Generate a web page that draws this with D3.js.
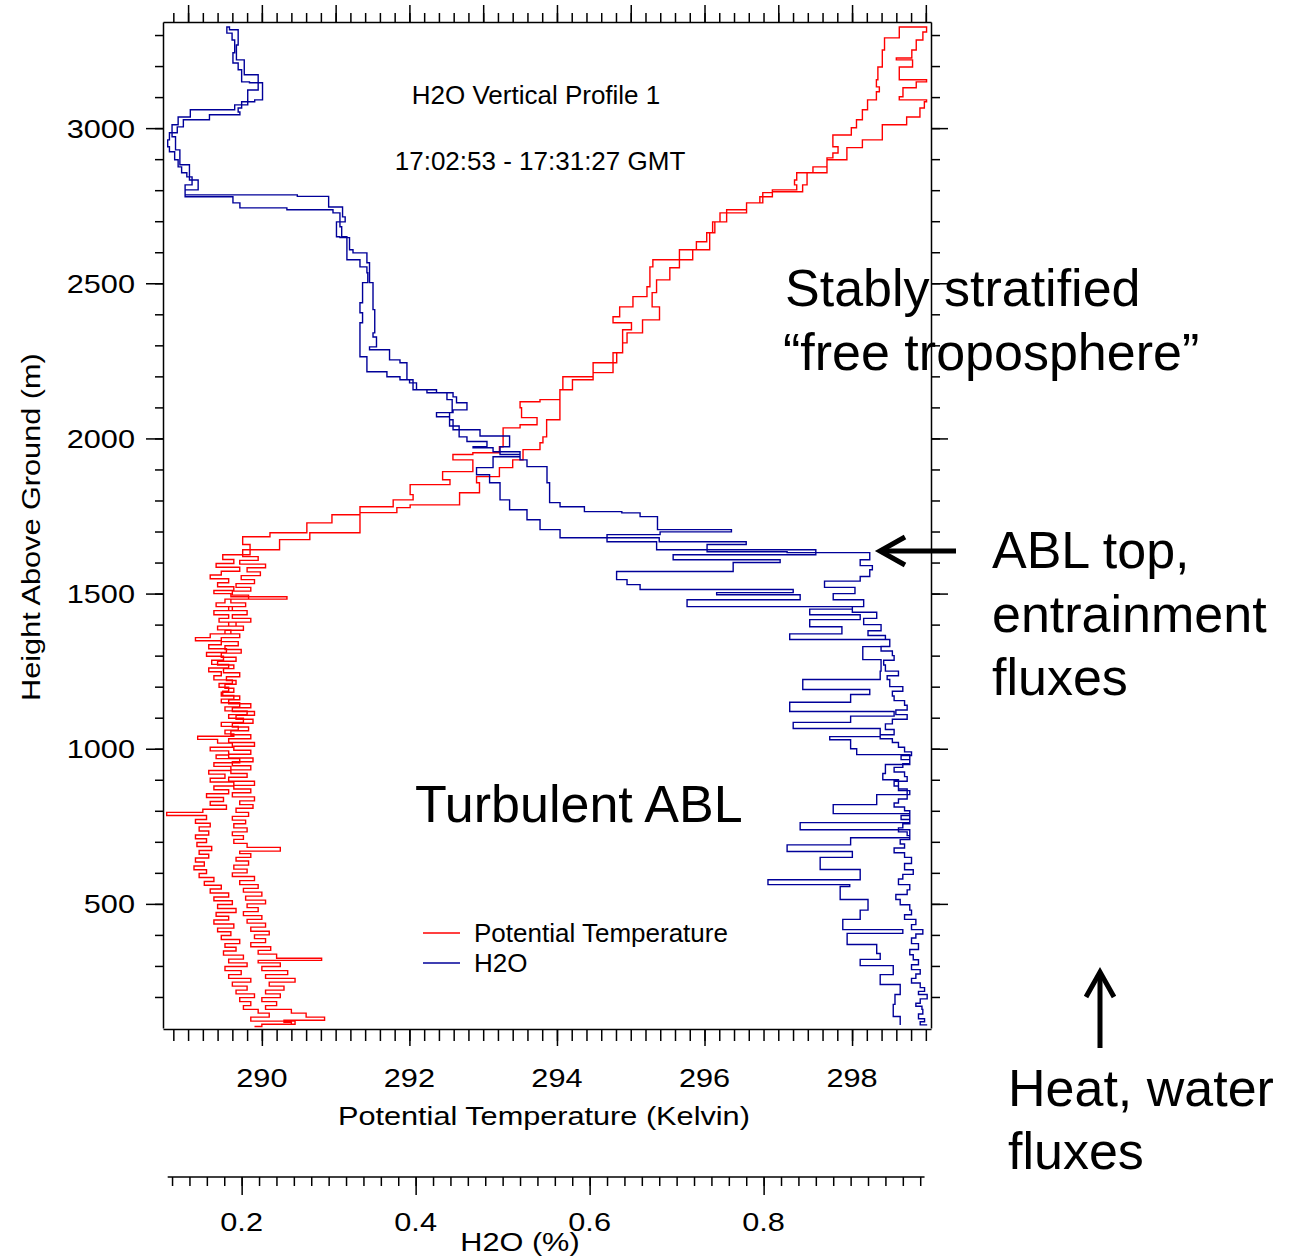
<!DOCTYPE html>
<html><head><meta charset="utf-8">
<script src="https://cdn.jsdelivr.net/npm/d3@7"></script>
<style>
body{margin:0;background:#fff}
svg{display:block}
text{font-family:"Liberation Sans",Arial,Helvetica,sans-serif}
</style>
</head><body>
<svg id="chart" width="1292" height="1257"></svg>
<script>
// ---------------- data (height m, value) ----------------
// Potential temperature (K), two legs of the profile, listed top -> bottom
const thetaLegLeft = [
[3326,298.64],[3291,298.44],[3252,298.41],[3197,298.35],[3156,298.33],[3133,298.37],[3117,298.33],[3091,298.21],[3059,298.14],[3027,298.06],[3001,297.99],[2978,297.74],[2953,297.74],[2940,297.81],[2920,297.74],[2904,297.66],[2875,297.47],[2856,297.25],[2833,297.22],[2817,297.25],[2801,296.92],[2779,296.75],[2759,296.57],[2727,296.21],[2698,296.11],[2663,296.03],[2634,295.89],[2608,295.66],[2576,295.30],[2553,295.26],[2489,295.22],[2457,295.03],[2424,294.85],[2392,294.76],[2373,295.01],[2350,294.89],[2295,294.89],[2276,294.81],[2244,294.49],[2189,294.21],[2157,294.04],[2125,293.77],[2118,293.50],[2099,293.52],[2067,293.73],[2044,293.50],[2034,293.27],[2005,293.27],[1973,293.22],[1954,292.86],[1948,292.59],[1931,292.86],[1915,292.86],[1893,292.45],[1867,292.55],[1851,292.01],[1819,292.05],[1802,291.78],[1780,291.33],[1754,290.95],[1728,290.61],[1696,290.11],[1683,289.74],[1658,289.84],[1625,289.47],
[1610,289.62],[1597,289.38],[1585,289.70],[1572,289.45],[1560,289.30],[1548,289.55],[1535,289.40],[1522,289.62],[1510,289.35],[1500,289.58],[1490,290.34],[1482,289.50],[1470,289.38],[1458,289.60],[1445,289.35],[1432,289.55],[1420,289.42],[1408,289.65],[1395,289.40],[1383,289.58],[1370,289.30],[1358,289.10],[1348,289.45],[1335,289.28],[1322,289.52],[1310,289.25],[1298,289.48],[1285,289.32],[1272,289.55],[1260,289.28],[1248,289.45],[1235,289.35],[1222,289.60],[1210,289.42],[1198,289.55],[1185,289.47],[1172,289.62],[1160,289.45],[1148,289.70],[1135,289.50],[1122,289.80],[1110,289.55],[1098,289.75],[1085,289.45],[1072,289.68],[1060,289.50],[1048,289.62],[1040,289.13],[1030,289.40],[1018,289.60],[1005,289.30],[993,289.55],[980,289.38],[968,289.70],[955,289.35],[943,289.58],[930,289.28],[918,289.50],[905,289.30],[893,289.62],[880,289.35],[868,289.55],[855,289.25],[843,289.48],[830,289.30],[818,289.52],[805,289.20],[795,288.71],[785,289.25],[772,289.10],[760,289.30],[748,289.15],[735,289.28],[722,289.10],[710,289.25],[698,289.12],[685,289.32],[672,289.15],[660,289.28],[648,289.10],[635,289.22],[622,289.08],[610,289.25],[598,289.15],[585,289.35],[572,289.22],[560,289.45],[548,289.30],[535,289.55],[522,289.35],[510,289.60],[498,289.40],[485,289.65],[472,289.38],[460,289.55],[448,289.35],[435,289.62],[422,289.40],[410,289.58],[398,289.45],[385,289.70],[372,289.50],[360,289.65],[348,289.48],[335,289.75],[322,289.55],[310,289.80],[298,289.50],[285,289.72],[272,289.55],[260,289.85],[248,289.60],[235,289.80],[222,289.65],[210,289.90],[198,289.70],[185,289.85],[172,289.75],[160,289.95],[148,290.10],[135,289.85],[122,290.45],[112,290.00],[105,289.90]
];
const thetaLegRight = [
[3326,299.02],[3310,299.01],[3284,298.96],[3252,298.87],[3226,298.81],[3220,298.60],[3210,298.82],[3197,298.82],[3181,298.64],[3156,298.64],[3149,299.01],[3130,298.87],[3101,298.69],[3091,298.64],[3085,299.01],[3065,298.98],[3036,298.92],[3011,298.74],[2962,298.41],[2937,298.14],[2898,297.93],[2856,297.66],[2817,297.39],[2795,297.33],[2792,296.92],[2759,296.79],[2737,296.57],[2698,296.30],[2663,296.14],[2608,296.07],[2576,295.84],[2550,295.66],[2511,295.53],[2470,295.35],[2424,295.29],[2382,295.39],[2340,295.16],[2308,294.95],[2276,294.89],[2244,294.76],[2212,294.76],[2199,294.49],[2157,294.08],[2115,294.04],[2060,294.04],[2005,293.86],[1986,293.81],[1964,293.77],[1931,293.54],[1906,293.40],[1877,293.22],[1857,292.91],[1825,292.95],[1786,292.68],[1777,292.01],[1761,291.83],[1696,291.33],[1674,290.65],[1641,290.24],[1619,289.74],
[1607,289.95],[1595,289.70],[1583,290.05],[1570,289.80],[1558,289.98],[1545,289.72],[1532,289.90],[1520,289.65],[1508,289.85],[1495,289.60],[1482,289.82],[1470,289.58],[1458,289.78],[1445,289.55],[1432,289.80],[1420,289.60],[1408,289.85],[1395,289.55],[1382,289.75],[1370,289.50],[1358,289.70],[1345,289.45],[1332,289.68],[1320,289.50],[1308,289.72],[1295,289.45],[1282,289.65],[1270,289.40],[1258,289.62],[1245,289.48],[1232,289.70],[1220,289.52],[1208,289.65],[1195,289.50],[1182,289.62],[1170,289.45],[1158,289.70],[1145,289.55],[1132,289.85],[1120,289.60],[1108,289.90],[1095,289.65],[1082,289.88],[1070,289.60],[1058,289.82],[1045,289.58],[1032,289.85],[1020,289.55],[1008,289.90],[995,289.62],[982,289.85],[970,289.55],[958,289.88],[945,289.60],[932,289.85],[920,289.58],[908,289.80],[895,289.55],[882,289.90],[870,289.62],[858,289.85],[845,289.60],[832,289.90],[820,289.70],[808,289.88],[795,289.65],[782,289.82],[770,289.60],[758,289.78],[745,289.62],[732,289.80],[720,289.60],[708,289.75],[695,289.62],[682,289.80],[670,290.25],[662,289.70],[650,289.85],[638,289.65],[625,289.82],[612,289.62],[600,289.80],[588,289.60],[575,289.90],[562,289.70],[550,289.95],[538,289.75],[525,290.00],[512,289.78],[500,290.05],[488,289.80],[475,289.95],[462,289.75],[450,290.00],[438,289.80],[425,290.05],[412,289.85],[400,290.10],[388,289.90],[375,290.05],[362,289.85],[350,290.12],[338,289.95],[325,290.20],[318,290.81],[310,289.95],[298,290.25],[285,290.00],[272,290.35],[260,290.05],[248,290.45],[235,290.10],[222,290.30],[210,290.05],[198,290.25],[185,290.00],[172,290.20],[160,290.05],[148,290.40],[135,290.60],[125,290.85],[118,290.30],[110,290.40]
];
// H2O (%), two legs, listed top -> bottom
const h2oLegOne = [
[3326,0.183],[3306,0.189],[3284,0.192],[3243,0.190],[3210,0.196],[3188,0.200],[3149,0.209],[3146,0.224],[3130,0.224],[3091,0.215],[3085,0.200],[3065,0.196],[3052,0.198],[3043,0.163],[3027,0.133],[3004,0.126],[2985,0.117],[2962,0.115],[2940,0.117],[2924,0.123],[2898,0.127],[2875,0.131],[2856,0.137],[2843,0.143],[2817,0.135],[2792,0.135],[2785,0.264],[2780,0.300],[2746,0.316],[2714,0.319],[2698,0.309],[2650,0.313],[2647,0.324],[2608,0.328],[2598,0.344],[2566,0.347],[2502,0.351],[2457,0.351],[2415,0.353],[2340,0.351],[2327,0.355],[2295,0.347],[2286,0.370],[2253,0.382],[2244,0.390],[2221,0.390],[2189,0.397],[2157,0.413],[2147,0.436],[2125,0.442],[2083,0.439],[2040,0.450],[2005,0.459],[1990,0.482],[1973,0.466],[1970,0.489],[1957,0.520],[1941,0.489],[1906,0.470],[1883,0.485],[1857,0.497],[1802,0.508],[1770,0.528],[1738,0.543],[1706,0.566],[1680,0.620],[1667,0.677],[1641,0.735],[1635,0.827],[1632,0.922],
[1609,0.911],[1590,0.925],[1577,0.922],[1555,0.911],[1540,0.870],[1520,0.905],[1500,0.880],[1480,0.915],[1458,0.902],[1440,0.930],[1420,0.915],[1400,0.935],[1380,0.920],[1365,0.940],[1352,0.945],[1330,0.935],[1315,0.948],[1300,0.950],[1285,0.938],[1270,0.940],[1250,0.955],[1235,0.942],[1223,0.945],[1200,0.960],[1185,0.948],[1170,0.950],[1155,0.962],[1140,0.965],[1125,0.952],[1110,0.965],[1095,0.948],[1080,0.940],[1062,0.950],[1045,0.934],[1032,0.948],[1020,0.955],[1005,0.962],[990,0.970],[978,0.958],[965,0.968],[952,0.960],[940,0.950],[925,0.962],[910,0.965],[895,0.950],[880,0.955],[865,0.968],[852,0.965],[838,0.955],[825,0.950],[812,0.962],[800,0.968],[785,0.958],[772,0.968],[758,0.960],[745,0.955],[732,0.965],[720,0.968],[707,0.957],[693,0.962],[680,0.950],[665,0.962],[650,0.970],[630,0.962],[610,0.972],[595,0.960],[580,0.955],[562,0.968],[545,0.965],[530,0.952],[514,0.957],[497,0.968],[480,0.970],[465,0.962],[450,0.975],[433,0.970],[417,0.983],[403,0.975],[390,0.970],[372,0.978],[353,0.968],[336,0.972],[320,0.978],[304,0.970],[288,0.980],[274,0.975],[260,0.970],[245,0.980],[230,0.985],[218,0.978],[208,0.988],[194,0.980],[180,0.975],[170,0.982],[160,0.983],[145,0.978],[130,0.985],[120,0.980],[110,0.988]
];
const h2oLegTwo = [
[3326,0.186],[3317,0.186],[3268,0.196],[3220,0.194],[3172,0.203],[3123,0.219],[3075,0.207],[3059,0.192],[3036,0.141],[3011,0.127],[2972,0.120],[2930,0.124],[2882,0.129],[2833,0.140],[2801,0.150],[2779,0.135],[2759,0.190],[2743,0.198],[2737,0.252],[2727,0.305],[2682,0.313],[2650,0.315],[2576,0.321],[2553,0.336],[2534,0.344],[2502,0.345],[2437,0.339],[2405,0.336],[2373,0.339],[2308,0.336],[2263,0.336],[2244,0.344],[2215,0.344],[2199,0.367],[2189,0.382],[2179,0.393],[2157,0.401],[2147,0.424],[2134,0.443],[2115,0.447],[2092,0.459],[2083,0.443],[2070,0.424],[2060,0.439],[2028,0.443],[2008,0.474],[1973,0.508],[1948,0.497],[1931,0.520],[1909,0.528],[1857,0.551],[1793,0.554],[1780,0.566],[1764,0.594],[1760,0.637],[1748,0.658],[1706,0.678],[1699,0.763],[1690,0.681],[1680,0.620],[1667,0.680],[1658,0.780],[1641,0.735],[1625,0.860],[1609,0.696],[1600,0.819],[1571,0.765],[1545,0.631],[1529,0.643],[1513,0.658],[1503,0.834],[1496,0.746],[1480,0.842],[1458,0.712],[1450,0.902],[1432,0.853],[1416,0.911],[1393,0.853],[1370,0.890],[1352,0.830],[1329,0.945],[1287,0.914],[1250,0.935],[1223,0.934],[1191,0.845],[1175,0.922],[1150,0.900],[1120,0.830],[1105,0.950],[1085,0.900],[1065,0.834],[1039,0.934],[1029,0.876],[1000,0.900],[981,0.907],[949,0.968],[920,0.940],[900,0.937],[870,0.955],[852,0.965],[820,0.930],[791,0.880],[762,0.968],[739,0.842],[713,0.968],[690,0.900],[669,0.827],[650,0.902],[611,0.865],[578,0.911],[562,0.805],[556,0.899],[514,0.888],[480,0.920],[450,0.911],[417,0.891],[405,0.960],[369,0.896],[340,0.930],[321,0.934],[301,0.911],[272,0.949],[240,0.934],[208,0.957],[176,0.951],[137,0.949],[110,0.957]
];

// tick labels
const heightLabels = [500,1000,1500,2000,2500,3000];
const thetaLabels = [290,292,294,296,298];
const h2oLabels = [0.2,0.4,0.6,0.8];

// text
const titleLines = ["H2O Vertical Profile 1","17:02:53 - 17:31:27 GMT"];
const legendNames = ["Potential Temperature","H2O"];
const colors = {theta:"#ff0000", h2o:"#000099"};

// ---------------- drawing ----------------
const svg = d3.select("#chart");
const L = 163, R = 931, T = 22, B = 1028;
const x = d3.scaleLinear().domain([288.66, 299.07]).range([L, R]);
const xw = d3.scaleLinear().domain([0.1096, 0.9924]).range([L, R]);
const y = d3.scaleLinear().domain([100, 3342]).range([B, T]);

function label(parent, str, px, py, o) {
  o = Object.assign({size:26, anchor:"middle", stretch:1, rotate:0, weight:"normal"}, o || {});
  const t = parent.append("text").attr("font-size", o.size).attr("font-weight", o.weight).attr("fill", "#000").text(str);
  const w = t.node().getComputedTextLength();
  const off = o.anchor === "middle" ? -w / 2 : (o.anchor === "end" ? -w : 0);
  t.attr("x", off).attr("y", 0).attr("transform", `translate(${px},${py}) rotate(${o.rotate}) scale(${o.stretch},1)`);
  return t;
}

svg.append("defs").append("clipPath").attr("id", "plotclip")
  .append("rect").attr("x", L).attr("y", T).attr("width", R - L).attr("height", B - T);

// data lines
const lineT = d3.line().x(d => x(d[1])).y(d => y(d[0])).curve(d3.curveStepAfter);
const lineW = d3.line().x(d => xw(d[1])).y(d => y(d[0])).curve(d3.curveStepAfter);
const plot = svg.append("g").attr("clip-path", "url(#plotclip)");
plot.append("path").attr("d", lineT(thetaLegLeft.slice().reverse().concat(thetaLegRight)))
  .attr("fill", "none").attr("stroke", colors.theta).attr("stroke-width", 1.4);
plot.append("path").attr("d", lineW(h2oLegOne.slice().reverse().concat(h2oLegTwo)))
  .attr("fill", "none").attr("stroke", colors.h2o).attr("stroke-width", 1.4);

// axes
const thetaMinor = d3.range(1444, 1496).map(i => i / 5);
const thetaMid = d3.range(289, 300);
const hMinor = d3.range(200, 3301, 100);
const wMinor = d3.range(6, 50).map(i => i / 50);

function styleAxis(g) { g.selectAll("path,line").attr("stroke", "#000").attr("stroke-width", 1.5); g.selectAll("text").remove(); }

// bottom
svg.append("g").attr("transform", `translate(0,${B + 1})`)
  .call(d3.axisBottom(x).tickValues(thetaMinor).tickSize(12).tickSizeOuter(0).tickFormat("")).call(styleAxis);
svg.append("g").attr("transform", `translate(0,${B + 1})`)
  .call(d3.axisBottom(x).tickValues(thetaLabels).tickSize(17).tickSizeOuter(0).tickFormat("")).call(styleAxis)
  .select(".domain").remove();
// top
svg.append("g").attr("transform", `translate(0,${T})`)
  .call(d3.axisTop(x).tickValues(thetaMinor).tickSize(9).tickSizeOuter(0).tickFormat("")).call(styleAxis);
svg.append("g").attr("transform", `translate(0,${T})`)
  .call(d3.axisTop(x).tickValues(thetaMid).tickSize(17).tickSizeOuter(0).tickFormat("")).call(styleAxis)
  .select(".domain").remove();
// left
svg.append("g").attr("transform", `translate(${L},0)`)
  .call(d3.axisLeft(y).tickValues(hMinor).tickSize(8).tickSizeOuter(0).tickFormat("")).call(styleAxis);
svg.append("g").attr("transform", `translate(${L},0)`)
  .call(d3.axisLeft(y).tickValues(heightLabels).tickSize(17).tickSizeOuter(0).tickFormat("")).call(styleAxis)
  .select(".domain").remove();
// right
svg.append("g").attr("transform", `translate(${R},0)`)
  .call(d3.axisRight(y).tickValues(hMinor).tickSize(9).tickSizeOuter(0).tickFormat("")).call(styleAxis);
svg.append("g").attr("transform", `translate(${R},0)`)
  .call(d3.axisRight(y).tickValues(heightLabels).tickSize(17).tickSizeOuter(0).tickFormat("")).call(styleAxis)
  .select(".domain").remove();
// H2O axis
const wAxisY = 1177;
const gw = svg.append("g").attr("transform", `translate(0,${wAxisY})`);
gw.call(d3.axisBottom(xw).tickValues(wMinor).tickSize(9).tickSizeOuter(0).tickFormat("")).call(styleAxis);
gw.select(".domain").remove();
gw.append("line").attr("x1", xw(0.115)).attr("x2", xw(0.985)).attr("y1", 0).attr("y2", 0).attr("stroke", "#000").attr("stroke-width", 1.5);
svg.append("g").attr("transform", `translate(0,${wAxisY})`)
  .call(d3.axisBottom(xw).tickValues(h2oLabels).tickSize(18).tickSizeOuter(0).tickFormat("")).call(styleAxis)
  .select(".domain").remove();

// tick labels
const S = 1.18;
const tl = svg.append("g");
heightLabels.forEach(v => label(tl, String(v), 135 - 0, y(v) + 9.5, {anchor:"end", stretch:S}));
thetaLabels.forEach(v => label(tl, String(v), x(v), 1087, {stretch:S}));
h2oLabels.forEach(v => label(tl, d3.format(".1f")(v), xw(v), 1231, {stretch:S}));

// axis titles
label(tl, "Potential Temperature (Kelvin)", 544, 1125, {stretch:S});
label(tl, "Height Above Ground (m)", 40, 527, {stretch:S, rotate:-90});
label(tl, "H2O (%)", 520, 1251, {stretch:S});

// title
label(tl, titleLines[0], 536, 104, {size:26});
label(tl, titleLines[1], 540, 170, {size:26});

// legend
const lg = svg.append("g");
[colors.theta, colors.h2o].forEach((c, i) => {
  const yy = 933 + i * 30;
  lg.append("line").attr("x1", 423).attr("x2", 460).attr("y1", yy).attr("y2", yy).attr("stroke", c).attr("stroke-width", 1.6);
  label(lg, legendNames[i], 474, yy + 9, {anchor:"start", size:26});
});

// annotations
const an = svg.append("g");
label(an, "Stably stratified", 785, 306, {anchor:"start", size:52});
label(an, "\u201Cfree troposphere\u201D", 783, 370, {anchor:"start", size:52});
label(an, "Turbulent ABL", 415, 822, {anchor:"start", size:52});
label(an, "ABL top,", 992, 568, {anchor:"start", size:52});
label(an, "entrainment", 992, 632, {anchor:"start", size:52});
label(an, "fluxes", 992, 695, {anchor:"start", size:52});
label(an, "Heat, water", 1008, 1106, {anchor:"start", size:52});
label(an, "fluxes", 1008, 1169, {anchor:"start", size:52});

// arrows
an.append("line").attr("x1", 956).attr("x2", 881).attr("y1", 551).attr("y2", 551).attr("stroke", "#000").attr("stroke-width", 5);
an.append("polyline").attr("points", "905,537 880,551 905,565").attr("fill", "none").attr("stroke", "#000").attr("stroke-width", 5).attr("stroke-linejoin", "miter");
an.append("line").attr("x1", 1100).attr("x2", 1100).attr("y1", 1048).attr("y2", 973).attr("stroke", "#000").attr("stroke-width", 5);
an.append("polyline").attr("points", "1086,997 1100,972 1114,997").attr("fill", "none").attr("stroke", "#000").attr("stroke-width", 5).attr("stroke-linejoin", "miter");
</script>
</body></html>
